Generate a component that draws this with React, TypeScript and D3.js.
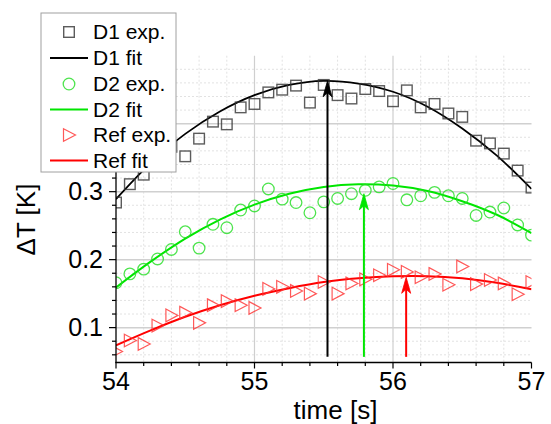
import React from "react";
import * as d3 from "d3";

const times = [54.0, 54.1, 54.2, 54.3, 54.4, 54.5, 54.6, 54.7, 54.8, 54.9, 55.0, 55.1, 55.2, 55.3, 55.4, 55.5, 55.6, 55.7, 55.8, 55.9, 56.0, 56.1, 56.2, 56.3, 56.4, 56.5, 56.6, 56.7, 56.8, 56.9, 57.0];
const d1Exp = [0.284, 0.311, 0.325, 0.348, 0.366, 0.352, 0.378, 0.403, 0.399, 0.424, 0.429, 0.446, 0.45, 0.456, 0.431, 0.457, 0.442, 0.437, 0.451, 0.448, 0.433, 0.449, 0.424, 0.429, 0.415, 0.41, 0.375, 0.371, 0.356, 0.331, 0.306];
const d2Exp = [0.166, 0.179, 0.186, 0.201, 0.215, 0.241, 0.217, 0.252, 0.247, 0.273, 0.279, 0.304, 0.289, 0.284, 0.269, 0.285, 0.29, 0.297, 0.302, 0.307, 0.312, 0.288, 0.294, 0.299, 0.294, 0.29, 0.265, 0.27, 0.276, 0.251, 0.236];
const refExp = [0.065, 0.081, 0.076, 0.103, 0.118, 0.122, 0.107, 0.133, 0.139, 0.133, 0.129, 0.157, 0.16, 0.154, 0.15, 0.167, 0.15, 0.165, 0.171, 0.177, 0.185, 0.182, 0.174, 0.179, 0.163, 0.19, 0.164, 0.17, 0.165, 0.149, 0.167];

const fitTimes = [54, 54.25, 54.5, 54.75, 55, 55.25, 55.5, 55.75, 56, 56.25, 56.5, 56.75, 57];
const d1Fit = [0.289, 0.342, 0.385, 0.418, 0.442, 0.457, 0.463, 0.459, 0.447, 0.425, 0.393, 0.353, 0.304];
const d2Fit = [0.159, 0.197, 0.231, 0.259, 0.281, 0.297, 0.307, 0.311, 0.309, 0.301, 0.286, 0.266, 0.239];
const refFit = [0.074, 0.096, 0.116, 0.133, 0.147, 0.158, 0.167, 0.1725, 0.1755, 0.1757, 0.1725, 0.166, 0.1565];

const arrowX = [55.527, 55.79, 56.095];
const arrowTip = [0.463, 0.297, 0.174];
const arrowBase = 0.057;

const xTicks = [54, 55, 56, 57];
const yTicks = [0.1, 0.2, 0.3];
const legendLabels = ["D1 exp.", "D1 fit", "D2 exp.", "D2 fit", "Ref exp.", "Ref fit"];

const BLACK = "#000";
const GREEN = "#00e600";
const RED = "#ff0000";

const FONT = "'Liberation Sans', Arial, sans-serif";

const L = 116, R = 531.5, T = 55.7, B = 362.5;

function Square({ cx, cy }: { cx: number; cy: number }) {
  return <rect x={cx - 5.3} y={cy - 5.3} width={10.6} height={10.6} fill="none" stroke="#333" strokeOpacity={0.8} strokeWidth={1.4} />;
}
function Circle({ cx, cy }: { cx: number; cy: number }) {
  return <circle cx={cx} cy={cy} r={5.8} fill="none" stroke="#22dd22" strokeOpacity={0.8} strokeWidth={1.3} />;
}
function Tri({ cx, cy }: { cx: number; cy: number }) {
  return <path d={`M${cx - 5.5},${cy - 6.3}L${cx + 6.5},${cy}L${cx - 5.5},${cy + 6.3}Z`} fill="none" stroke="#ff3030" strokeOpacity={0.8} strokeWidth={1.2} />;
}

export default function App() {
  const x = d3.scaleLinear().domain([54, 57]).range([L, R]);
  const y = d3.scaleLinear().domain([0.0487, 0.5]).range([B, T]);

  const xMinor = d3.range(54, 57.0001, 0.2).map((v) => +v.toFixed(2));
  const yMinor = d3.range(0.06, 0.5001, 0.02).map((v) => +v.toFixed(3));

  const line = d3
    .line<number>()
    .x((_, i) => x(fitTimes[i]))
    .y((d) => y(d))
    .curve(d3.curveCatmullRom.alpha(0.5));

  const isMajorY = (v: number) => Math.abs(v * 10 - Math.round(v * 10)) < 1e-6;
  const isMajorX = (v: number) => Math.abs(v - Math.round(v)) < 1e-6;

  const legendRowY = [32, 58, 84, 109.5, 135, 160.5];

  return (
    <div style={{ position: "absolute", left: 0, top: 0 }}>
      <svg width={551} height={424} style={{ display: "block", background: "#fff" }} fontFamily={FONT}>
        <defs>
          <clipPath id="plotClip">
            <rect x={L} y={T} width={R - L} height={B - T} />
          </clipPath>
        </defs>

        {/* minor grid */}
        {xMinor.filter((v) => !isMajorX(v)).map((v) => (
          <line key={"xm" + v} x1={x(v)} x2={x(v)} y1={T} y2={B} stroke="#e2e2e2" strokeWidth={1} strokeDasharray="2,2" />
        ))}
        {yMinor.filter((v) => !isMajorY(v)).map((v) => (
          <line key={"ym" + v} x1={L} x2={R} y1={y(v)} y2={y(v)} stroke="#e2e2e2" strokeWidth={1} strokeDasharray="2,2" />
        ))}
        {/* major grid */}
        {[55, 56].map((v) => (
          <line key={"xg" + v} x1={x(v)} x2={x(v)} y1={T} y2={B} stroke="#cfcfcf" strokeWidth={1.2} />
        ))}
        {[0.1, 0.2, 0.3, 0.4].map((v) => (
          <line key={"yg" + v} x1={L} x2={R} y1={y(v)} y2={y(v)} stroke="#d0d0d0" strokeWidth={1.5} />
        ))}

        <g clipPath="url(#plotClip)">
          <path d={line(d1Fit) || ""} fill="none" stroke={BLACK} strokeWidth={1.8} />
          <path d={line(d2Fit) || ""} fill="none" stroke={GREEN} strokeWidth={2} />
          <path d={line(refFit) || ""} fill="none" stroke={RED} strokeWidth={2} />
          {times.map((t, i) => (
            <Square key={"s" + i} cx={x(t)} cy={y(d1Exp[i])} />
          ))}
          {times.map((t, i) => (
            <Circle key={"c" + i} cx={x(t)} cy={y(d2Exp[i])} />
          ))}
          {times.map((t, i) => (
            <Tri key={"t" + i} cx={x(t)} cy={y(refExp[i])} />
          ))}
        </g>

        {/* arrows */}
        {arrowX.map((ax, i) => {
          const col = [BLACK, GREEN, RED][i];
          const px = x(ax);
          const tip = y(arrowTip[i]);
          return (
            <g key={"a" + i}>
              <line x1={px} x2={px} y1={y(arrowBase)} y2={tip + 8} stroke={col} strokeWidth={2} />
              <path d={`M${px},${tip}L${px + 4.5},${tip + 16}L${px},${tip + 12}L${px - 4.5},${tip + 16}Z`} fill={col} stroke={col} strokeWidth={0.8} />
            </g>
          );
        })}

        {/* axes */}
        <line x1={L} x2={L} y1={T} y2={B + 0.5} stroke="#000" strokeWidth={1.3} />
        <line x1={L - 0.6} x2={R} y1={B} y2={B} stroke="#000" strokeWidth={1.3} />
        {xMinor.map((v) => (
          <line key={"xt" + v} x1={x(v)} x2={x(v)} y1={B} y2={B + (isMajorX(v) ? 6 : 3.5)} stroke="#000" strokeWidth={1.2} />
        ))}
        {yMinor.map((v) => (
          <line key={"yt" + v} x1={L} x2={L - (isMajorY(v) ? 7 : 4)} y1={y(v)} y2={y(v)} stroke="#000" strokeWidth={1.2} />
        ))}
        {xTicks.map((v) => (
          <text key={"xl" + v} x={x(v)} y={390} textAnchor="middle" fontSize={25} fill="#000">
            {v}
          </text>
        ))}
        {yTicks.map((v) => (
          <text key={"yl" + v} x={103} y={y(v) + 8.8} textAnchor="end" fontSize={25} fill="#000">
            {v.toFixed(1)}
          </text>
        ))}
        <text x={335.5} y={419} textAnchor="middle" fontSize={26} fill="#000">
          time [s]
        </text>
        <text transform={`translate(35,219.5) rotate(-90)`} textAnchor="middle" fontSize={26} fill="#000">
          ΔT [K]
        </text>

        {/* legend */}
        <rect x={41} y={13} width={135} height={159} fill="#fff" stroke="#a0a0a0" strokeWidth={1} />
        {legendLabels.map((lab, i) => {
          const cy = legendRowY[i];
          let sym: React.ReactNode = null;
          if (i === 0) sym = <Square cx={69} cy={cy} />;
          if (i === 2) sym = <Circle cx={69} cy={cy} />;
          if (i === 4) sym = <Tri cx={69} cy={cy} />;
          if (i === 1) sym = <line x1={50} x2={88} y1={cy} y2={cy} stroke={BLACK} strokeWidth={1.8} />;
          if (i === 3) sym = <line x1={50} x2={88} y1={cy} y2={cy} stroke={GREEN} strokeWidth={2} />;
          if (i === 5) sym = <line x1={50} x2={88} y1={cy} y2={cy} stroke={RED} strokeWidth={2} />;
          return (
            <g key={"lg" + i}>
              {sym}
              <text x={93} y={cy + 7} fontSize={21} fill="#000">
                {lab}
              </text>
            </g>
          );
        })}
      </svg>
    </div>
  );
}
